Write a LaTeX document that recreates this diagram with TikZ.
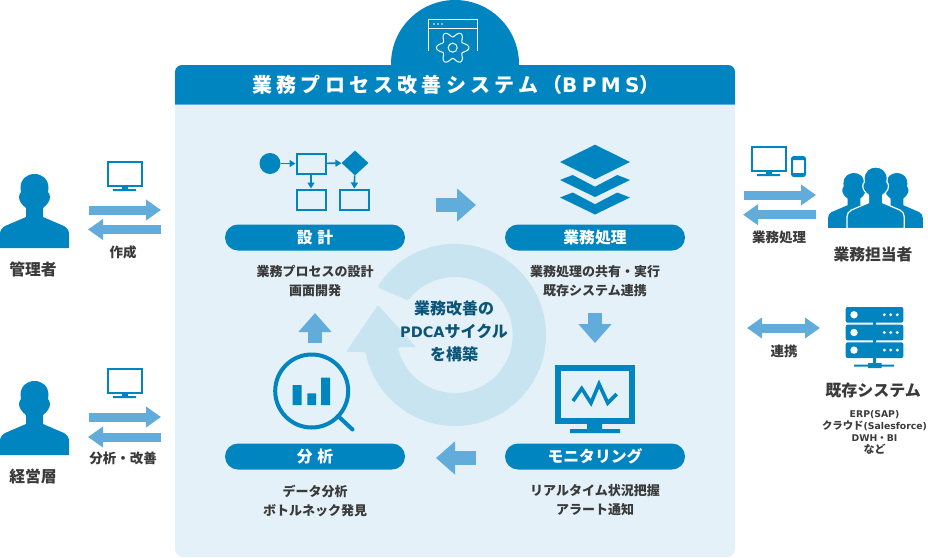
\documentclass[tikz,border=0pt]{standalone}
\usepackage{fontspec}
\setmainfont{Noto Sans CJK JP}
\newfontfamily\wideface[LetterSpace=21]{Noto Sans CJK JP}
\newfontfamily\widelatin[LetterSpace=22]{DejaVu Sans}
\newfontfamily\latinface{DejaVu Sans}
\usetikzlibrary{arrows.meta,shapes.geometric,calc}
\definecolor{mainblue}{HTML}{0085C1}
\definecolor{paleblue}{HTML}{E4F1F8}
\definecolor{ringblue}{HTML}{C8E4F0}
\definecolor{flowblue}{HTML}{62ACDB}
\definecolor{deepblue}{HTML}{0B5578}
\definecolor{inkgray}{HTML}{3A3A3A}
\tikzset{
  pill/.style={fill=mainblue,rounded corners=13pt,minimum width=180pt,minimum height=26pt,inner sep=0pt,text=white,font=\fontsize{15.8}{16}\bfseries},
  body/.style={align=center,text=inkgray,font=\fontsize{13}{19}\bfseries},
  side/.style={text=inkgray,font=\fontsize{13.5}{14}\bfseries},
  actor/.style={text=inkgray,font=\fontsize{15.8}{16}\bfseries},
  bigflow/.style={draw=flowblue,line width=14pt,-{Triangle[length=19pt,width=32pt]}},
  flow/.style={draw=flowblue,line width=9pt,-{Triangle[length=15pt,width=20pt]}},
  step line/.style={draw=mainblue,line width=2pt},
  person/.pic={
    \path[pic actions] (0,-74) -- (0,-60) .. controls (0,-56) and (2,-54) .. (5,-52) -- (26,-43) -- (26,-34)
      .. controls (22,-31) and (19,-27) .. (19,-23) .. controls (19,-21) and (20,-19) .. (21,-18) -- (20.5,-14)
      .. controls (20.5,-5) and (27,0) .. (34.5,0) .. controls (42,0) and (48.5,-5) .. (48.5,-14) -- (48,-18)
      .. controls (49,-19) and (50,-21) .. (50,-23) .. controls (50,-27) and (47,-31) .. (43,-34)
      -- (43,-43) -- (64,-52) .. controls (67,-54) and (69,-56) .. (69,-60) -- (69,-74) -- cycle;
  },
  screen/.pic={
    \draw[mainblue,line width=2.4pt] (1.2,-1.2) rectangle (34.8,-24.8);
    \fill[mainblue] (15,-26) rectangle (21,-29) (6,-28) rectangle (29,-30);
  }
}
\begin{document}
\begin{tikzpicture}[x=1pt,y=1pt]
\useasboundingbox (0,0) rectangle (928,-557);

% panel and its heading
\fill[mainblue] (455,-64) circle [radius=64];
\fill[paleblue,rounded corners=8pt] (175,-90) rectangle (735,-557);
\fill[mainblue] (175,-104) -- (175,-72) arc [start angle=180,end angle=90,radius=7] -- (728,-65)
  arc [start angle=90,end angle=0,radius=7] -- (735,-104) -- cycle;
\draw[flowblue,line width=1pt] (175,-104.5) -- (735,-104.5);
\node (title) [text=white] at (456,-85) {\fontsize{20}{20}\wideface\bfseries 業務プロセス改善システム（{\widelatin\bfseries\fontsize{20}{20}\selectfont BPMS}）};

% window and gear
\draw[white,line width=1pt] (428.5,-51) -- (428.5,-19.5) -- (477,-19.5) -- (477,-51) (428.5,-28) -- (477,-28);
\foreach \x in {434,438,442} \fill[white] (\x,-24) circle [radius=.9];
\draw[white,line width=1pt,fill=mainblue,line join=round]
  plot[domain=0:355,samples=72,smooth cycle,variable=\a] ({452.7+(13.5+2.8*cos(6*\a))*cos(\a)},{-47.7+(13.5+2.8*cos(6*\a))*sin(\a)});
\draw[white,line width=1pt] (452.7,-47.7) circle [radius=4.5];

% cycle ring
\coordinate (hub) at (455,-335);
\fill[ringblue,rounded corners=1.5pt] ($(hub)+(148.4:91)$) arc [start angle=148.4,end angle=-169.4,radius=91]
  -- (346,-352) -- (378,-305) -- (416,-347) -- (398,-347)
  arc [start angle=-168.1,end angle=143.3,radius=58] -- cycle;
\node (cycle) [align=center,text=deepblue,font=\fontsize{16}{23}\bfseries] at (454,-331)
  {業務改善の\\{\latinface\fontsize{14.5}{23}\selectfont\bfseries PDCA}サイクル\\を構築};

% flow chart icon
\node (start) [circle,fill=mainblue,minimum size=21pt,inner sep=0pt] at (270,-163.5) {};
\node (boxa) [step line,minimum width=29pt,minimum height=20pt,inner sep=0pt] at (311,-163.5) {};
\node (gate) [diamond,fill=mainblue,minimum width=27pt,minimum height=25pt,inner sep=0pt] at (355,-163) {};
\node (boxb) [step line,minimum width=29pt,minimum height=20pt,inner sep=0pt] at (311,-199.5) {};
\node (boxc) [step line,minimum width=29pt,minimum height=20pt,inner sep=0pt] at (354,-199.5) {};
\foreach \a/\b in {start/boxa,boxa/gate,boxa/boxb,gate/boxc}
  \draw[mainblue,line width=1.6pt,-{Triangle[length=6pt,width=7pt]}] (\a) -- (\b);

% layers icon
\fill[mainblue] (560,-162) -- (595,-144.7) -- (630,-162) -- (595,-179.3) -- cycle;
\foreach \y in {0,17.5}
  \fill[mainblue] (560,-180-\y) -- (572.7,-175-\y) -- (595,-186.7-\y) -- (617.3,-175-\y) -- (630,-180-\y) -- (595,-197-\y) -- cycle;

% big monitor icon
\draw[mainblue,line width=6pt] (558,-368) rectangle (632,-421);
\fill[mainblue] (587,-424) rectangle (602,-430) (570,-429) rectangle (620,-433);
\draw[mainblue,line width=3.6pt] (573,-401) -- (581.7,-388.5) -- (591,-403) -- (599,-384) -- (607.7,-403) -- (616.7,-394);

% magnifier icon
\draw[mainblue,line width=4pt] (311.7,-391) circle [radius=36.5];
\draw[mainblue,line width=4pt,line cap=round] (338,-416) -- (352.5,-429.5);
\fill[mainblue] (292.7,-385) rectangle (301.7,-405) (307.3,-393.3) rectangle (316,-405) (321,-377.7) rectangle (330,-405);

% the four stages
\node (design) [pill] at (315,-237.5) {設\hspace{.3em}計};
\node (process) [pill] at (595,-237.5) {業務処理};
\node (analysis) [pill] at (315,-456.5) {分\hspace{.3em}析};
\node (monitoring) [pill] at (595,-456.5) {モニタリング};
\node (designtext) [body] at (315,-281.5) {業務プロセスの設計\\画面開発};
\node (processtext) [body] at (595,-281.5) {業務処理の共有・実行\\既存システム連携};
\node (analysistext) [body] at (315,-500.5) {データ分析\\ボトルネック発見};
\node (monitoringtext) [body] at (595,-500.5) {リアルタイム状況把握\\アラート通知};

% arrow ends
\foreach \name/\x/\y in {d1/436/205,d2/476/205,p1/595/313,p2/595/343,m1/476/458,m2/436/458,a1/315/343,a2/315/313,
    ml1/89/210,ml2/161/210,ml3/161/229.5,ml4/88/229.5,
    el1/89/417,el2/161/417,el3/161/437,el4/88/437,
    ur1/744/195,ur2/816/195,ur3/816/214.7,ur4/743/214.7,
    lk1/747/328,lk2/820/328}
  \coordinate (\name) at (\x,-\y);
\foreach \a/\b in {d1/d2,p1/p2,m1/m2,a1/a2}
  \draw[bigflow] (\a) -- (\b);
\foreach \a/\b in {ml1/ml2,ml3/ml4,el1/el2,el3/el4,ur1/ur2,ur3/ur4}
  \draw[flow] (\a) -- (\b);
\draw[flow,{Triangle[length=15pt,width=20pt]}-{Triangle[length=15pt,width=20pt]}] (lk1) -- (lk2);

% left side
\pic[fill=mainblue] at (0,-174) {person};
\pic[fill=mainblue] at (0,-381) {person};
\pic at (107,-161) {screen};
\pic at (107,-368) {screen};
\node (manager) [actor] at (33,-269) {管理者};
\node (executive) [actor] at (33,-476) {経営層};
\node (create) [side] at (123,-252) {作成};
\node (improve) [side] at (123,-458) {分析・改善};

% right side
\pic at (751,-146) {screen};
\draw[mainblue,line width=2pt,rounded corners=2pt] (792,-157) rectangle (805,-176);
\fill[mainblue] (792,-157) rectangle (805,-160) (792,-173) rectangle (805,-176);
\pic[fill=mainblue,scale=.75] at (828,-173) {person};
\pic[fill=mainblue,scale=.75] at (871,-173) {person};
\pic[fill=mainblue,draw=white,line width=1.2pt,scale=.83] at (847,-167) {person};
\fill[white] (820,-228) rectangle (928,-232);
\node (worktext) [side] at (779,-237) {業務処理};
\node (staff) [actor] at (873,-254) {業務担当者};

% server icon
\foreach \y in {307,324.7,342.3} {
  \fill[mainblue,rounded corners=2pt] (845.7,-\y) rectangle (903.3,-\y-15.7);
  \fill[white] (854,-\y-7.8) circle [radius=3.7];
  \foreach \x in {884.3,890.7,897.3} \fill[white] (\x,-\y-7.8) circle [radius=1.6];
}
\fill[mainblue] (873,-322) rectangle (876,-344) (873,-357) rectangle (876,-365)
  (854,-364.7) rectangle (894,-366.7) (868,-363) rectangle (881.7,-368);
\node (linktext) [side] at (784,-351) {連携};
\node (legacy) [actor,font=\fontsize{16}{16}\bfseries] at (873,-390) {既存システム};
\node (legacytext) [align=center,text=inkgray,font=\fontsize{9.3}{12}\latinface\bfseries] at (874.5,-432)
  {ERP(SAP)\\{\rmfamily\fontsize{10.4}{12}\selectfont クラウド}(Salesforce)\\DWH{\rmfamily ・}BI\\{\rmfamily\fontsize{11}{12}\selectfont など}};
\end{tikzpicture}
\end{document}
